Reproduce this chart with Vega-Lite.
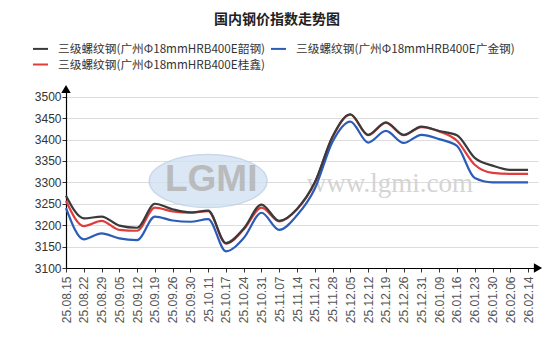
{
  "$schema": "https://vega.github.io/schema/vega-lite/v6.json",
  "width": 472,
  "height": 179,
  "autosize": {"type": "none"},
  "padding": {"left": 66, "top": 89, "right": 16, "bottom": 90},
  "background": "white",
  "title": {
    "text": "国内钢价指数走势图",
    "font": "Noto Sans CJK SC",
    "fontSize": 14,
    "fontWeight": "bold",
    "color": "#222222",
    "anchor": "middle",
    "frame": "group",
    "dx": -25,
    "offset": 13
  },
  "datasets": {
    "prices": [
      {"date": "25.08.15", "series": "三级螺纹钢(广州Φ18mmHRB400E韶钢)", "price": 3269},
      {"date": "25.08.22", "series": "三级螺纹钢(广州Φ18mmHRB400E韶钢)", "price": 3216},
      {"date": "25.08.29", "series": "三级螺纹钢(广州Φ18mmHRB400E韶钢)", "price": 3220},
      {"date": "25.09.05", "series": "三级螺纹钢(广州Φ18mmHRB400E韶钢)", "price": 3199},
      {"date": "25.09.12", "series": "三级螺纹钢(广州Φ18mmHRB400E韶钢)", "price": 3194},
      {"date": "25.09.19", "series": "三级螺纹钢(广州Φ18mmHRB400E韶钢)", "price": 3250},
      {"date": "25.09.26", "series": "三级螺纹钢(广州Φ18mmHRB400E韶钢)", "price": 3237},
      {"date": "25.09.30", "series": "三级螺纹钢(广州Φ18mmHRB400E韶钢)", "price": 3230},
      {"date": "25.10.11", "series": "三级螺纹钢(广州Φ18mmHRB400E韶钢)", "price": 3234},
      {"date": "25.10.17", "series": "三级螺纹钢(广州Φ18mmHRB400E韶钢)", "price": 3158},
      {"date": "25.10.24", "series": "三级螺纹钢(广州Φ18mmHRB400E韶钢)", "price": 3192},
      {"date": "25.10.31", "series": "三级螺纹钢(广州Φ18mmHRB400E韶钢)", "price": 3248},
      {"date": "25.11.07", "series": "三级螺纹钢(广州Φ18mmHRB400E韶钢)", "price": 3210},
      {"date": "25.11.14", "series": "三级螺纹钢(广州Φ18mmHRB400E韶钢)", "price": 3238},
      {"date": "25.11.21", "series": "三级螺纹钢(广州Φ18mmHRB400E韶钢)", "price": 3300},
      {"date": "25.11.28", "series": "三级螺纹钢(广州Φ18mmHRB400E韶钢)", "price": 3407},
      {"date": "25.12.05", "series": "三级螺纹钢(广州Φ18mmHRB400E韶钢)", "price": 3459},
      {"date": "25.12.12", "series": "三级螺纹钢(广州Φ18mmHRB400E韶钢)", "price": 3411},
      {"date": "25.12.19", "series": "三级螺纹钢(广州Φ18mmHRB400E韶钢)", "price": 3440},
      {"date": "25.12.26", "series": "三级螺纹钢(广州Φ18mmHRB400E韶钢)", "price": 3411},
      {"date": "25.12.31", "series": "三级螺纹钢(广州Φ18mmHRB400E韶钢)", "price": 3430},
      {"date": "26.01.09", "series": "三级螺纹钢(广州Φ18mmHRB400E韶钢)", "price": 3420},
      {"date": "26.01.16", "series": "三级螺纹钢(广州Φ18mmHRB400E韶钢)", "price": 3410},
      {"date": "26.01.23", "series": "三级螺纹钢(广州Φ18mmHRB400E韶钢)", "price": 3357},
      {"date": "26.01.30", "series": "三级螺纹钢(广州Φ18mmHRB400E韶钢)", "price": 3339},
      {"date": "26.02.06", "series": "三级螺纹钢(广州Φ18mmHRB400E韶钢)", "price": 3329},
      {"date": "26.02.14", "series": "三级螺纹钢(广州Φ18mmHRB400E韶钢)", "price": 3329},
      {"date": "25.08.15", "series": "三级螺纹钢(广州Φ18mmHRB400E广金钢)", "price": 3240},
      {"date": "25.08.22", "series": "三级螺纹钢(广州Φ18mmHRB400E广金钢)", "price": 3167},
      {"date": "25.08.29", "series": "三级螺纹钢(广州Φ18mmHRB400E广金钢)", "price": 3181},
      {"date": "25.09.05", "series": "三级螺纹钢(广州Φ18mmHRB400E广金钢)", "price": 3169},
      {"date": "25.09.12", "series": "三级螺纹钢(广州Φ18mmHRB400E广金钢)", "price": 3165},
      {"date": "25.09.19", "series": "三级螺纹钢(广州Φ18mmHRB400E广金钢)", "price": 3220},
      {"date": "25.09.26", "series": "三级螺纹钢(广州Φ18mmHRB400E广金钢)", "price": 3211},
      {"date": "25.09.30", "series": "三级螺纹钢(广州Φ18mmHRB400E广金钢)", "price": 3208},
      {"date": "25.10.11", "series": "三级螺纹钢(广州Φ18mmHRB400E广金钢)", "price": 3214},
      {"date": "25.10.17", "series": "三级螺纹钢(广州Φ18mmHRB400E广金钢)", "price": 3139},
      {"date": "25.10.24", "series": "三级螺纹钢(广州Φ18mmHRB400E广金钢)", "price": 3170},
      {"date": "25.10.31", "series": "三级螺纹钢(广州Φ18mmHRB400E广金钢)", "price": 3229},
      {"date": "25.11.07", "series": "三级螺纹钢(广州Φ18mmHRB400E广金钢)", "price": 3189},
      {"date": "25.11.14", "series": "三级螺纹钢(广州Φ18mmHRB400E广金钢)", "price": 3223},
      {"date": "25.11.21", "series": "三级螺纹钢(广州Φ18mmHRB400E广金钢)", "price": 3285},
      {"date": "25.11.28", "series": "三级螺纹钢(广州Φ18mmHRB400E广金钢)", "price": 3395},
      {"date": "25.12.05", "series": "三级螺纹钢(广州Φ18mmHRB400E广金钢)", "price": 3442},
      {"date": "25.12.12", "series": "三级螺纹钢(广州Φ18mmHRB400E广金钢)", "price": 3393},
      {"date": "25.12.19", "series": "三级螺纹钢(广州Φ18mmHRB400E广金钢)", "price": 3420},
      {"date": "25.12.26", "series": "三级螺纹钢(广州Φ18mmHRB400E广金钢)", "price": 3392},
      {"date": "25.12.31", "series": "三级螺纹钢(广州Φ18mmHRB400E广金钢)", "price": 3411},
      {"date": "26.01.09", "series": "三级螺纹钢(广州Φ18mmHRB400E广金钢)", "price": 3401},
      {"date": "26.01.16", "series": "三级螺纹钢(广州Φ18mmHRB400E广金钢)", "price": 3385},
      {"date": "26.01.23", "series": "三级螺纹钢(广州Φ18mmHRB400E广金钢)", "price": 3310},
      {"date": "26.01.30", "series": "三级螺纹钢(广州Φ18mmHRB400E广金钢)", "price": 3300},
      {"date": "26.02.06", "series": "三级螺纹钢(广州Φ18mmHRB400E广金钢)", "price": 3300},
      {"date": "26.02.14", "series": "三级螺纹钢(广州Φ18mmHRB400E广金钢)", "price": 3300},
      {"date": "25.08.15", "series": "三级螺纹钢(广州Φ18mmHRB400E桂鑫)", "price": 3257},
      {"date": "25.08.22", "series": "三级螺纹钢(广州Φ18mmHRB400E桂鑫)", "price": 3198},
      {"date": "25.08.29", "series": "三级螺纹钢(广州Φ18mmHRB400E桂鑫)", "price": 3210},
      {"date": "25.09.05", "series": "三级螺纹钢(广州Φ18mmHRB400E桂鑫)", "price": 3189},
      {"date": "25.09.12", "series": "三级螺纹钢(广州Φ18mmHRB400E桂鑫)", "price": 3187},
      {"date": "25.09.19", "series": "三级螺纹钢(广州Φ18mmHRB400E桂鑫)", "price": 3241},
      {"date": "25.09.26", "series": "三级螺纹钢(广州Φ18mmHRB400E桂鑫)", "price": 3232},
      {"date": "25.09.30", "series": "三级螺纹钢(广州Φ18mmHRB400E桂鑫)", "price": 3229},
      {"date": "25.10.11", "series": "三级螺纹钢(广州Φ18mmHRB400E桂鑫)", "price": 3233},
      {"date": "25.10.17", "series": "三级螺纹钢(广州Φ18mmHRB400E桂鑫)", "price": 3157},
      {"date": "25.10.24", "series": "三级螺纹钢(广州Φ18mmHRB400E桂鑫)", "price": 3190},
      {"date": "25.10.31", "series": "三级螺纹钢(广州Φ18mmHRB400E桂鑫)", "price": 3241},
      {"date": "25.11.07", "series": "三级螺纹钢(广州Φ18mmHRB400E桂鑫)", "price": 3209},
      {"date": "25.11.14", "series": "三级螺纹钢(广州Φ18mmHRB400E桂鑫)", "price": 3237},
      {"date": "25.11.21", "series": "三级螺纹钢(广州Φ18mmHRB400E桂鑫)", "price": 3299},
      {"date": "25.11.28", "series": "三级螺纹钢(广州Φ18mmHRB400E桂鑫)", "price": 3406},
      {"date": "25.12.05", "series": "三级螺纹钢(广州Φ18mmHRB400E桂鑫)", "price": 3458},
      {"date": "25.12.12", "series": "三级螺纹钢(广州Φ18mmHRB400E桂鑫)", "price": 3410},
      {"date": "25.12.19", "series": "三级螺纹钢(广州Φ18mmHRB400E桂鑫)", "price": 3439},
      {"date": "25.12.26", "series": "三级螺纹钢(广州Φ18mmHRB400E桂鑫)", "price": 3410},
      {"date": "25.12.31", "series": "三级螺纹钢(广州Φ18mmHRB400E桂鑫)", "price": 3429},
      {"date": "26.01.09", "series": "三级螺纹钢(广州Φ18mmHRB400E桂鑫)", "price": 3419},
      {"date": "26.01.16", "series": "三级螺纹钢(广州Φ18mmHRB400E桂鑫)", "price": 3397},
      {"date": "26.01.23", "series": "三级螺纹钢(广州Φ18mmHRB400E桂鑫)", "price": 3341},
      {"date": "26.01.30", "series": "三级螺纹钢(广州Φ18mmHRB400E桂鑫)", "price": 3322},
      {"date": "26.02.06", "series": "三级螺纹钢(广州Φ18mmHRB400E桂鑫)", "price": 3320},
      {"date": "26.02.14", "series": "三级螺纹钢(广州Φ18mmHRB400E桂鑫)", "price": 3320}
    ]
  },
  "data": {"name": "prices"},
  "encoding": {
    "x": {
      "field": "date",
      "type": "ordinal",
      "sort": null,
      "scale": {
        "type": "point",
        "padding": 0.28,
        "align": 0,
        "domain": ["25.08.15","25.08.22","25.08.29","25.09.05","25.09.12","25.09.19","25.09.26","25.09.30","25.10.11","25.10.17","25.10.24","25.10.31","25.11.07","25.11.14","25.11.21","25.11.28","25.12.05","25.12.12","25.12.19","25.12.26","25.12.31","26.01.09","26.01.16","26.01.23","26.01.30","26.02.06","26.02.14"]
      },
      "axis": {
        "title": null,
        "labelAngle": -90,
        "labelAlign": "right",
        "labelBaseline": "middle",
        "labelFont": "Liberation Sans",
        "labelFontSize": 12,
        "labelColor": "#555555",
        "labelPadding": 4,
        "tickSize": 4,
        "tickColor": "#333333",
        "domainColor": "#000000",
        "domainWidth": 1.2,
        "grid": false,
        "labelOverlap": false
      }
    },
    "y": {
      "field": "price",
      "type": "quantitative",
      "scale": {"domain": [3100, 3518], "nice": false, "zero": false},
      "axis": {
        "title": null,
        "format": "d",
        "values": [3100, 3150, 3200, 3250, 3300, 3350, 3400, 3450, 3500],
        "labelFont": "Liberation Sans",
        "labelFontSize": 12,
        "labelColor": "#333333",
        "labelPadding": 1,
        "tickSize": 4,
        "tickColor": "#333333",
        "domainColor": "#000000",
        "domainWidth": 1.2,
        "grid": true,
        "gridColor": "#dddddd",
        "gridWidth": 1
      }
    }
  },
  "layer": [
    {
      "transform": [{"filter": "datum.date === '25.08.15' && datum.series === '三级螺纹钢(广州Φ18mmHRB400E韶钢)'"}],
      "mark": {"type": "point", "shape": "M -1 0 A 1 0.45 0 1 0 1 0 A 1 0.45 0 1 0 -1 0 Z", "filled": true, "fill": "#cfe0f2", "opacity": 0.75, "stroke": "#b7cde6", "strokeWidth": 1.5},
      "encoding": {
        "x": {"datum": "25.10.11"},
        "y": {"datum": 3303},
        "size": {"value": 13900}
      }
    },
    {
      "transform": [{"filter": "datum.date === '25.08.15' && datum.series === '三级螺纹钢(广州Φ18mmHRB400E韶钢)'"}],
      "mark": {"type": "text", "text": "LGMI", "font": "Liberation Sans", "fontSize": 37, "fontWeight": "bold", "fill": "#b4b4b4", "opacity": 0.85, "align": "center", "baseline": "middle", "dx": 3},
      "encoding": {
        "x": {"datum": "25.10.11"},
        "y": {"datum": 3305}
      }
    },
    {
      "transform": [{"filter": "datum.date === '25.08.15' && datum.series === '三级螺纹钢(广州Φ18mmHRB400E韶钢)'"}],
      "mark": {"type": "text", "text": "www.lgmi.com", "font": "Liberation Serif", "fontSize": 27, "fill": "#d4d4d4", "align": "center", "baseline": "middle", "dx": 4},
      "encoding": {
        "x": {"datum": "25.12.19"},
        "y": {"datum": 3296}
      }
    },
    {
      "transform": [{"filter": "datum.series === '三级螺纹钢(广州Φ18mmHRB400E桂鑫)'"}],
      "mark": {"type": "line", "interpolate": "monotone", "strokeWidth": 2.2},
      "encoding": {
        "color": {
          "field": "series",
          "type": "nominal",
          "scale": {
            "domain": ["三级螺纹钢(广州Φ18mmHRB400E韶钢)", "三级螺纹钢(广州Φ18mmHRB400E广金钢)", "三级螺纹钢(广州Φ18mmHRB400E桂鑫)"],
            "range": ["#3a3a3a", "#2a5cb8", "#e03c3c"]
          },
          "legend": {
            "title": null,
            "orient": "none",
            "direction": "horizontal",
            "legendX": -34,
            "legendY": -49,
            "columns": 2,
            "columnPadding": 1,
            "rowPadding": 0,
            "padding": 0,
            "symbolType": "stroke",
            "symbolSize": 225,
            "symbolStrokeWidth": 2,
            "labelFont": "Noto Sans CJK SC",
            "labelFontSize": 11.7,
            "labelColor": "#333333",
            "labelOffset": 9,
            "labelLimit": 400
          }
        }
      }
    },
    {
      "transform": [{"filter": "datum.series === '三级螺纹钢(广州Φ18mmHRB400E广金钢)'"}],
      "mark": {"type": "line", "interpolate": "monotone", "strokeWidth": 2.2},
      "encoding": {
        "color": {
          "field": "series",
          "type": "nominal",
          "scale": {
            "domain": ["三级螺纹钢(广州Φ18mmHRB400E韶钢)", "三级螺纹钢(广州Φ18mmHRB400E广金钢)", "三级螺纹钢(广州Φ18mmHRB400E桂鑫)"],
            "range": ["#3a3a3a", "#2a5cb8", "#e03c3c"]
          }
        }
      }
    },
    {
      "transform": [{"filter": "datum.series === '三级螺纹钢(广州Φ18mmHRB400E韶钢)'"}],
      "mark": {"type": "line", "interpolate": "monotone", "strokeWidth": 2.2},
      "encoding": {
        "color": {
          "field": "series",
          "type": "nominal",
          "scale": {
            "domain": ["三级螺纹钢(广州Φ18mmHRB400E韶钢)", "三级螺纹钢(广州Φ18mmHRB400E广金钢)", "三级螺纹钢(广州Φ18mmHRB400E桂鑫)"],
            "range": ["#3a3a3a", "#2a5cb8", "#e03c3c"]
          }
        }
      }
    },
    {
      "transform": [{"filter": "datum.date === '25.08.15' && datum.series === '三级螺纹钢(广州Φ18mmHRB400E韶钢)'"}],
      "mark": {"type": "point", "shape": "triangle-up", "filled": true, "fill": "#000000", "opacity": 1},
      "encoding": {
        "x": {"datum": "25.08.15"},
        "y": {"datum": 3518},
        "size": {"value": 90}
      }
    },
    {
      "transform": [{"filter": "datum.date === '25.08.15' && datum.series === '三级螺纹钢(广州Φ18mmHRB400E韶钢)'"}],
      "mark": {"type": "point", "shape": "triangle-right", "filled": true, "fill": "#000000", "opacity": 1},
      "encoding": {
        "x": {"value": "width"},
        "y": {"datum": 3100},
        "size": {"value": 90}
      }
    }
  ],
  "config": {
    "view": {"stroke": null}
  }
}
